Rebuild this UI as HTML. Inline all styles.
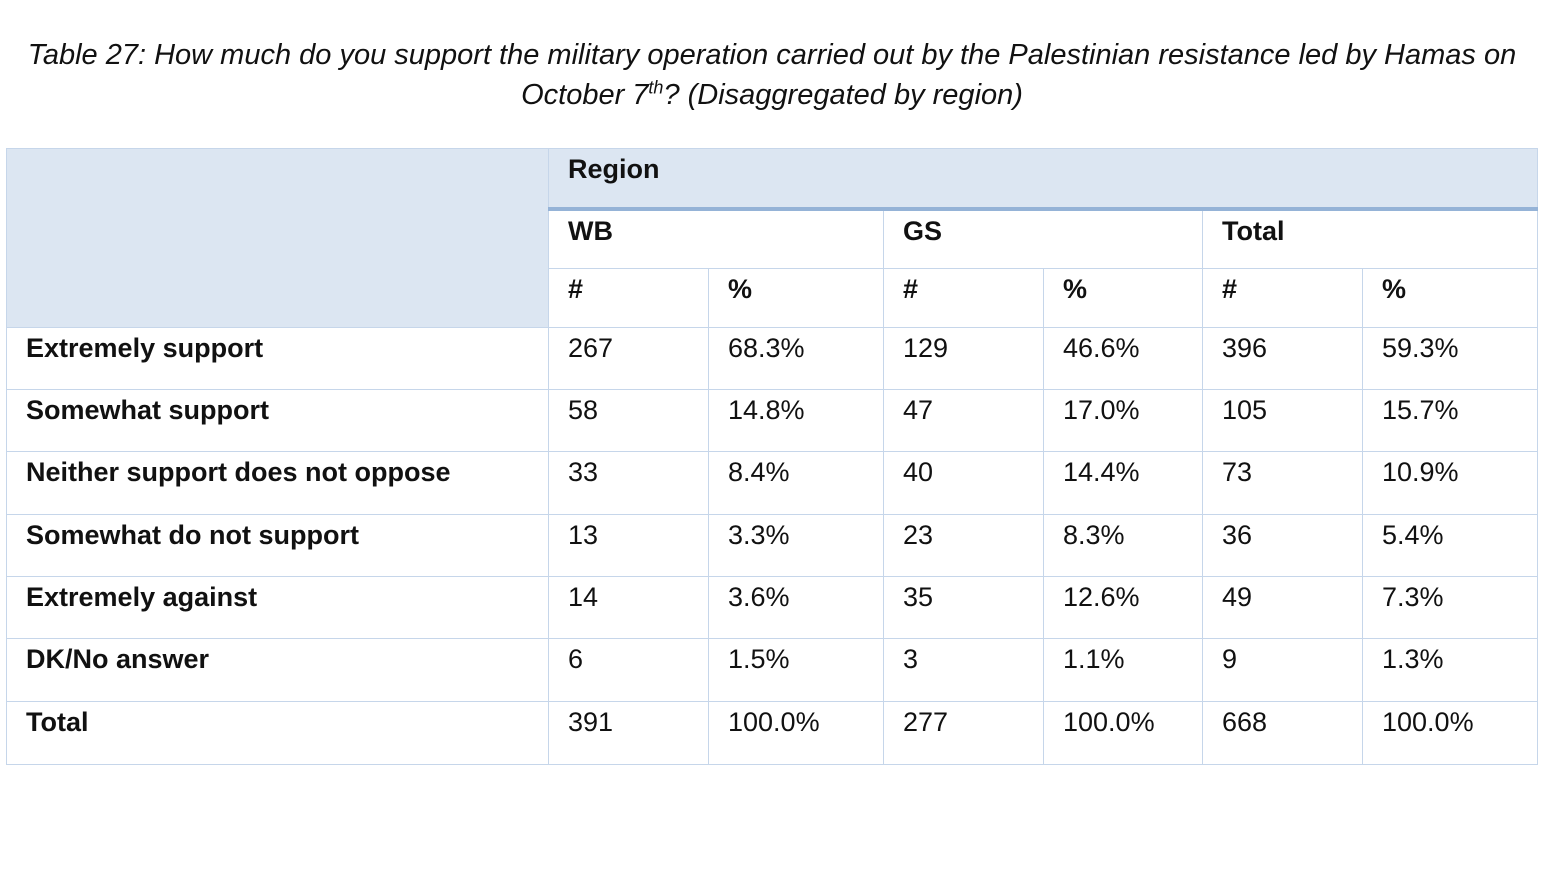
<!DOCTYPE html>
<html><head><meta charset="utf-8"><style>
body{margin:0;width:1544px;height:870px;background:#fff;font-family:"Liberation Sans",sans-serif;color:#111;position:relative;overflow:hidden}
.t{position:absolute;left:0;width:1544px;text-align:center;font-style:italic;font-size:29px;line-height:40px}
table{position:absolute;left:6px;top:148px;border-collapse:collapse;table-layout:fixed;width:1531px}
td{border:1px solid #c6d6ea;padding:6px 0 0 19px;vertical-align:top;font-size:27px;line-height:28px;box-sizing:border-box}
td.l{font-weight:bold;padding-left:19px}
.h td{font-weight:bold}
.bg{background:#dce6f2}
.thick td{border-bottom:4px solid #95b3d7}
</style></head><body>
<div class="t" style="top:35px">Table 27: How much do you support the military operation carried out by the Palestinian resistance led by Hamas on</div>
<div class="t" style="top:75px">October 7<sup style="font-size:18px;line-height:0">th</sup>? (Disaggregated by region)</div>
<table>
<colgroup><col style="width:542px"><col style="width:160px"><col style="width:175px"><col style="width:160px"><col style="width:159px"><col style="width:160px"><col style="width:175px"></colgroup>
<tr class="h thick" style="height:60px"><td class="bg" rowspan="3" style="border-bottom:1px solid #c6d6ea"></td><td class="bg" colspan="6">Region</td></tr>
<tr class="h" style="height:60px"><td colspan="2">WB</td><td colspan="2">GS</td><td colspan="2">Total</td></tr>
<tr class="h" style="height:59px"><td>#</td><td>%</td><td>#</td><td>%</td><td>#</td><td>%</td></tr>
<tr style="height:62px"><td class="l">Extremely support</td><td>267</td><td>68.3%</td><td>129</td><td>46.6%</td><td>396</td><td>59.3%</td></tr>
<tr style="height:62px"><td class="l">Somewhat support</td><td>58</td><td>14.8%</td><td>47</td><td>17.0%</td><td>105</td><td>15.7%</td></tr>
<tr style="height:63px"><td class="l">Neither support does not oppose</td><td>33</td><td>8.4%</td><td>40</td><td>14.4%</td><td>73</td><td>10.9%</td></tr>
<tr style="height:62px"><td class="l">Somewhat do not support</td><td>13</td><td>3.3%</td><td>23</td><td>8.3%</td><td>36</td><td>5.4%</td></tr>
<tr style="height:62px"><td class="l">Extremely against</td><td>14</td><td>3.6%</td><td>35</td><td>12.6%</td><td>49</td><td>7.3%</td></tr>
<tr style="height:63px"><td class="l">DK/No answer</td><td>6</td><td>1.5%</td><td>3</td><td>1.1%</td><td>9</td><td>1.3%</td></tr>
<tr style="height:63px"><td class="l">Total</td><td>391</td><td>100.0%</td><td>277</td><td>100.0%</td><td>668</td><td>100.0%</td></tr>
</table>
</body></html>
